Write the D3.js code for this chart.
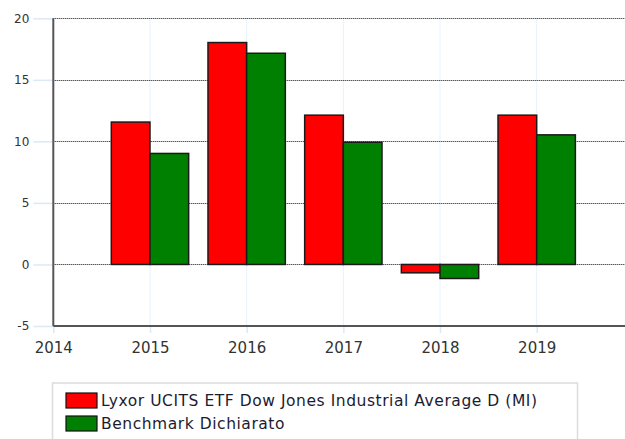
<!DOCTYPE html>
<html><head><meta charset="utf-8">
<script src="https://cdn.jsdelivr.net/npm/d3@7/dist/d3.min.js"></script>
<style>
html,body{margin:0;padding:0;background:#fff;}
svg{display:block;}
</style></head>
<body>
<script>
const years = [2015, 2016, 2017, 2018, 2019];
const fundValues = [11.57, 18.03, 12.13, -0.68, 12.13];
const benchValues = [9.02, 17.16, 9.93, -1.14, 10.53];
const seriesNames = ["Lyxor UCITS ETF Dow Jones Industrial Average D (MI)", "Benchmark Dichiarato"];
const seriesColors = ["#ff0000", "#008000"];
const xTicks = [2014, 2015, 2016, 2017, 2018, 2019];
const yTicks = [-5, 0, 5, 10, 15, 20];

const W = 625, H = 439;
const svg = d3.select("body").append("svg").attr("width", W).attr("height", H);

const pLeft = 53.3, pTop = 18.3, pBottom = 326, pRight = 625;
const x = d3.scaleLinear().domain([2014, 2019]).range([pLeft, 536.7]);
const y = d3.scaleLinear().domain([-5, 20]).range([pBottom, pTop]);
const step = x(2015) - x(2014);
const bw = step * 0.4;

// vertical light-blue dotted grid
svg.append("g").selectAll("line").data(xTicks.slice(1)).join("line")
  .attr("x1", d => x(d)).attr("x2", d => x(d))
  .attr("y1", pTop).attr("y2", pBottom)
  .attr("stroke", "#d4e2f5").attr("stroke-width", 1).attr("stroke-dasharray", "1,1");

// horizontal dotted grid
svg.append("g").selectAll("line").data(yTicks.filter(d => d > -5)).join("line")
  .attr("x1", pLeft).attr("x2", pRight)
  .attr("y1", d => Math.round(y(d)) + 0.5).attr("y2", d => Math.round(y(d)) + 0.5)
  .attr("stroke", "#111").attr("stroke-width", 1).attr("stroke-dasharray", "1,1");

// y tick marks and labels
const yAxis = d3.axisLeft(y).tickValues(yTicks).tickSize(20).tickPadding(4).tickFormat(d => String(d));
const gy = svg.append("g").attr("transform", `translate(${pLeft},0)`).call(yAxis);
gy.select(".domain").remove();
gy.selectAll(".tick line").attr("stroke", "#dde8f7").attr("stroke-width", 1.5);
gy.selectAll(".tick text").attr("font-family", "DejaVu Sans, Verdana, sans-serif").attr("font-size", 12).attr("fill", "#333");

// x tick marks and labels
const xAxis = d3.axisBottom(x).tickValues(xTicks).tickSize(7).tickPadding(9).tickFormat(d => String(d));
const gx = svg.append("g").attr("transform", `translate(0,${pBottom})`).call(xAxis);
gx.select(".domain").remove();
gx.selectAll(".tick line").attr("stroke", "#dde8f7").attr("stroke-width", 1.5);
gx.selectAll(".tick text").attr("font-family", "DejaVu Sans, Verdana, sans-serif").attr("font-size", 15).attr("fill", "#333");

// bars
const series = [fundValues, benchValues];
series.forEach((vals, si) => {
  svg.append("g").selectAll("rect").data(years.map((yr, i) => ({yr, v: vals[i]}))).join("rect")
    .attr("x", d => x(d.yr) - bw + si * bw)
    .attr("width", bw)
    .attr("y", d => y(Math.max(0, d.v)))
    .attr("height", d => Math.abs(y(d.v) - y(0)))
    .attr("fill", seriesColors[si])
    .attr("stroke", "#1a1a1a").attr("stroke-width", 1.5);
});

// axes lines
svg.append("line").attr("x1", pLeft).attr("x2", pLeft).attr("y1", pTop).attr("y2", pBottom)
  .attr("stroke", "#555").attr("stroke-width", 2);
svg.append("line").attr("x1", pLeft).attr("x2", pRight).attr("y1", pBottom).attr("y2", pBottom)
  .attr("stroke", "#555").attr("stroke-width", 2);

// legend
svg.append("rect").attr("x", 52.5).attr("y", 383).attr("width", 525).attr("height", 80)
  .attr("fill", "#fff").attr("stroke", "#dcdcdc").attr("stroke-width", 1.5);
const lg = svg.append("g").selectAll("g").data(seriesNames).join("g")
  .attr("transform", (d, i) => `translate(66,${393 + i * 23})`);
lg.append("rect").attr("width", 31).attr("height", 15)
  .attr("fill", (d, i) => seriesColors[i]).attr("stroke", "#111").attr("stroke-width", 1.2);
lg.append("text").attr("x", 35).attr("y", 13).text(d => d)
  .attr("font-family", "DejaVu Sans, Verdana, sans-serif").attr("font-size", 15.5)
  .attr("letter-spacing", 0.55).attr("fill", "#1c1c30");
</script>
</body></html>
